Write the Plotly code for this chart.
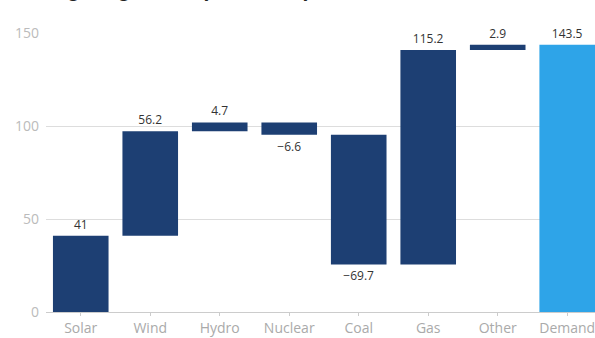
import plotly.graph_objects as go

categories = ["Solar", "Wind", "Hydro", "Nuclear", "Coal", "Gas", "Other", "Demand"]
values = [41, 56.2, 4.7, -6.6, -69.7, 115.2, 2.9, 143.5]
measures = ["relative"] * 7 + ["total"]
labels = ["41", "56.2", "4.7", "\u22126.6", "\u221269.7", "115.2", "2.9", "143.5"]
y_ticks = [0, 50, 100, 150]
title_text = "Meeting rising electricity demand by source (TWh)"

navy = "#1d3f73"
light_blue = "#2ea4e8"
font_family = "Open Sans"

fig = go.Figure(go.Waterfall(
    x=categories,
    y=values,
    measure=measures,
    text=labels,
    textposition="outside",
    textfont=dict(size=12, color="#333333", family=font_family),
    increasing=dict(marker=dict(color=navy)),
    decreasing=dict(marker=dict(color=navy)),
    totals=dict(marker=dict(color=light_blue)),
    connector=dict(visible=False),
    cliponaxis=False,
    width=0.8,
    showlegend=False,
))

fig.add_annotation(
    text=title_text, xref="paper", yref="paper", x=0, y=1,
    xanchor="left", yanchor="bottom", xshift=-38, yshift=29,
    showarrow=False, font=dict(size=18, color="#222222", family=font_family),
)

fig.update_layout(
    width=595, height=338,
    margin=dict(l=46, r=0, t=33, b=26, autoexpand=False),
    paper_bgcolor="white",
    plot_bgcolor="white",
    font=dict(family=font_family, color="#aaaaaa", size=14),
    xaxis=dict(range=[-0.5, 7.4], showline=True, linecolor="#cccccc", linewidth=1,
               ticks="outside", ticklen=3, tickcolor="#cccccc", automargin=False,
               tickfont=dict(size=14, color="#aaaaaa"), showgrid=False),
    yaxis=dict(range=[0, 150], tickvals=y_ticks, showgrid=True, gridcolor="#dddddd",
               gridwidth=1, zeroline=False, tickfont=dict(size=14, color="#bbbbbb"),
               ticklabelstandoff=6, automargin=False),
)

fig.write_html("out.html", config={"displayModeBar": False},
               post_script="document.body.style.margin='0';")
